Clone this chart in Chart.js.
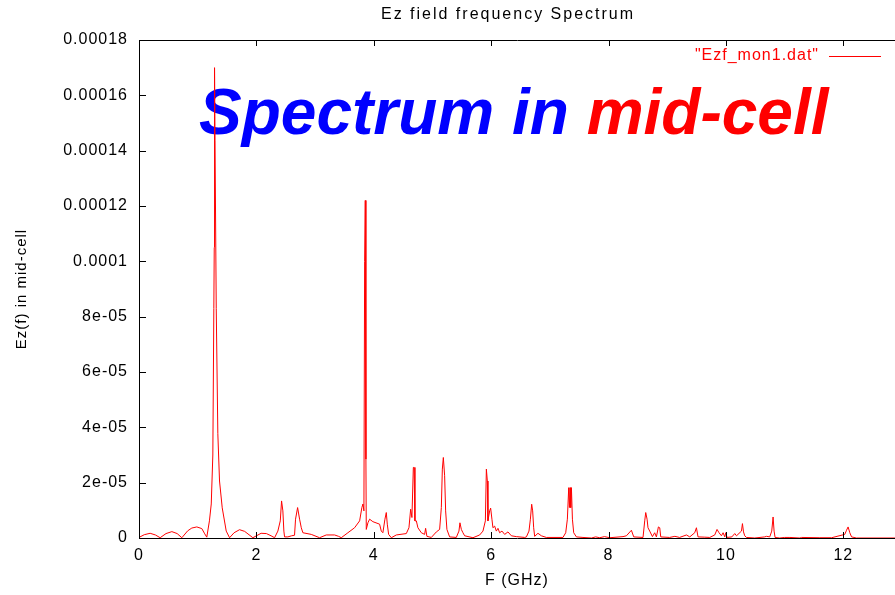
<!DOCTYPE html>
<html>
<head>
<meta charset="utf-8">
<title>Ez field frequency Spectrum</title>
<script src="https://cdn.jsdelivr.net/npm/chart.js@4.4.1/dist/chart.umd.min.js"></script>
<style>
  html, body { margin: 0; padding: 0; background: #fff; overflow: hidden; }
  #wrap { position: relative; width: 895px; height: 595px; }
</style>
</head>
<body>
<div id="wrap"><canvas id="spectrum" width="895" height="595"></canvas></div>
<script>
// frequency of each sample, GHz
const freqGHz = [
  0.00, 0.09, 0.19, 0.28, 0.36, 0.46, 0.56, 0.65, 0.73, 0.83, 0.90, 0.985, 1.07, 1.12, 1.155,
  1.20, 1.231, 1.258, 1.275, 1.282, 1.287, 1.295, 1.316, 1.343, 1.372, 1.418, 1.486, 1.543,
  1.62, 1.713, 1.80, 1.94, 2.08, 2.17, 2.25, 2.31, 2.366, 2.407, 2.429, 2.451, 2.468, 2.48,
  2.536, 2.60, 2.65, 2.667, 2.702, 2.736, 2.765, 2.792, 2.935, 3.077, 3.19, 3.332, 3.40, 3.446,
  3.559, 3.673, 3.759, 3.797, 3.815, 3.832, 3.844, 3.855, 3.866, 3.872, 3.90, 3.929, 3.985,
  4.099, 4.128, 4.155, 4.19, 4.213, 4.23, 4.253, 4.299, 4.384, 4.554, 4.599, 4.628, 4.65,
  4.674, 4.687, 4.701, 4.725, 4.752, 4.81, 4.866, 4.883, 4.905, 4.98, 5.066, 5.122, 5.151,
  5.168, 5.185, 5.207, 5.224, 5.246, 5.292, 5.406, 5.451, 5.468, 5.492, 5.519, 5.548, 5.69,
  5.804, 5.86, 5.901, 5.918, 5.935, 5.945, 5.974, 5.991, 6.013, 6.03, 6.059, 6.088, 6.116,
  6.144, 6.184, 6.23, 6.286, 6.344, 6.429, 6.571, 6.60, 6.644, 6.668, 6.69, 6.707, 6.724,
  6.741, 6.797, 6.855, 6.94, 7.223, 7.27, 7.298, 7.321, 7.333, 7.343, 7.355, 7.367, 7.384,
  7.406, 7.452, 7.564, 7.708, 7.78, 7.85, 7.93, 8.02, 8.246, 8.304, 8.389, 8.429, 8.587,
  8.616, 8.633, 8.656, 8.672, 8.701, 8.747, 8.786, 8.815, 8.849, 8.872, 8.889, 9.04, 9.13,
  9.21, 9.327, 9.383, 9.468, 9.497, 9.524, 9.639, 9.724, 9.809, 9.848, 9.882, 9.923, 9.951,
  9.98, 9.997, 10.019, 10.10, 10.15, 10.18, 10.264, 10.281, 10.299, 10.32, 10.35, 10.49,
  10.661, 10.69, 10.746, 10.78, 10.803, 10.82, 10.837, 10.917, 11.00, 11.09, 11.26, 11.287,
  11.6, 11.80, 12.024, 12.054, 12.081, 12.11, 12.14, 12.224, 12.88
];

// Ez(f) at each sample, in units of 1e-6
const ezMicro = [
  0.2, 1.2, 1.7, 1.1, 0.1, 1.6, 2.3, 1.6, 0.1, 2.6, 3.6, 4.0, 3.4, 1.5, 0.3,
  6.2, 12.3, 30, 83, 105, 170, 143.8, 83, 37.7, 20.6, 10.9, 2.5, 0.1,
  1.9, 3.0, 2.4, 0.1, 1.7, 1.6, 0.8, 0.1, 2.5, 6.2, 13.4, 9.8, 2.5, 0.4,
  0.4, 0.8, 1.0, 6.8, 11, 6.8, 3.7, 1.9, 1.3, 0.1, 1.1, 1.1, 0.6, 0.1,
  1.9, 3.7, 6.2, 11, 12.3, 9.8, 100, 122, 28.5, 3.1, 5.5, 6.8, 5.9,
  5.0, 2.5, 1.9, 6.8, 9.2, 5.0, 1.3, 0.1, 1.1, 1.6, 3.7, 10.4, 7.4,
  25.5, 25.5, 6.2, 6.2, 3.7, 1.9, 1.3, 3.5, 0.6, 0.2, 2.2, 3.1, 11,
  24.9, 29.1, 22.5, 9.8, 3.1, 0.4, 0.2, 2.5, 5.5, 3.1, 1.9, 0.8, 0.1,
  1.1, 2.5, 6.2, 24.9, 20.6, 6.2, 9.8, 10.8, 6.8, 3.7, 4.3, 2.5, 3.5,
  1.9, 2.5, 1.3, 2.2, 0.8, 0.5, 0.2, 0.4, 2.5, 6.8, 12.2, 9.8, 3.7,
  0.6, 1.7, 0.8, 0.2, 0.2, 1.9, 6.8, 18.2, 11, 18.2, 11, 18.2, 6.8,
  1.9, 0.4, 0.2, 0, 0.4, 0.1, 0.5, 0.1, 0.5, 0.8, 2.8, 0.4, 0.2,
  6.2, 9.2, 6.8, 3.7, 2.5, 0.5, 1.9, 0.4, 4.0, 3.7, 0.4, 0.2, 0.6,
  0.2, 1.1, 0.4, 1.9, 3.7, 0.4, 0.3, 0.2, 1.1, 3.1, 1.9, 0.8, 1.9,
  0.4, 1.9, 0.2, 0.4, 1.6, 0.8, 2.5, 5.2, 2.2, 0.8, 0.2, 0,
  0.4, 0.6, 0.4, 2.5, 7.6, 2.5, 0.2, 0, 0.2, 0.2, 0, 0.2,
  0.1, 0.1, 1.3, 2.8, 4.0, 1.9, 0.4, 0, 0
];

const xTickValues = [0, 2, 4, 6, 8, 10, 12];
const xTickLabels = ["0", "2", "4", "6", "8", "10", "12"];
const yTickValues = [0, 0.00002, 0.00004, 0.00006, 0.00008, 0.0001, 0.00012, 0.00014, 0.00016, 0.00018];
const yTickLabels = ["0", "2e-05", "4e-05", "6e-05", "8e-05", "0.0001", "0.00012", "0.00014", "0.00016", "0.00018"];

const plotTitle = "Ez field frequency Spectrum";
const seriesName = '"Ezf_mon1.dat"';
const captionBlue = "Spectrum in ";
const captionRed = "mid-cell";

const FONT = "'Liberation Sans', Arial, Helvetica, sans-serif";

const points = freqGHz.map((f, i) => ({ x: f, y: ezMicro[i] * 1e-6 }));

// gnuplot-like: tick marks drawn inward, text slightly tracked
const gnuplotLook = {
  id: "gnuplotLook",
  beforeLayout(chart) {
    chart.ctx.letterSpacing = "1px";
  },
  beforeDatasetsDraw(chart) {
    // big caption, sits under the curve
    const ctx = chart.ctx;
    ctx.save();
    ctx.letterSpacing = "0px";
    ctx.font = "italic bold 64px " + FONT;
    ctx.textBaseline = "alphabetic";
    ctx.textAlign = "left";
    const x0 = 199, y0 = 134;
    ctx.fillStyle = "#0000ff";
    ctx.fillText(captionBlue, x0, y0);
    const w = ctx.measureText(captionBlue).width;
    ctx.fillStyle = "#ff0000";
    ctx.fillText(captionRed, x0 + w, y0);
    ctx.restore();
  },
  afterDraw(chart) {
    const ctx = chart.ctx;
    const area = chart.chartArea;
    const xs = chart.scales.x;
    const ys = chart.scales.y;
    ctx.save();
    ctx.strokeStyle = "#000";
    ctx.lineWidth = 1;
    ctx.beginPath();
    xTickValues.forEach(v => {
      const px = Math.round(xs.getPixelForValue(v)) + 0.5;
      ctx.moveTo(px, area.bottom);
      ctx.lineTo(px, area.bottom - 6);
      ctx.moveTo(px, area.top);
      ctx.lineTo(px, area.top + 6);
    });
    yTickValues.forEach(v => {
      const py = Math.round(ys.getPixelForValue(v)) + 0.5;
      ctx.moveTo(area.left, py);
      ctx.lineTo(area.left + 7, py);
    });
    ctx.stroke();

    // plot title
    ctx.font = "16px " + FONT;
    ctx.letterSpacing = "2px";
    ctx.fillStyle = "#000";
    ctx.textAlign = "center";
    ctx.textBaseline = "middle";
    ctx.fillText(plotTitle, 508, 15);

    // key, text first then the line sample
    ctx.letterSpacing = "1px";
    ctx.fillStyle = "#ff0000";
    ctx.textAlign = "right";
    ctx.fillText(seriesName, 819, 56);
    ctx.strokeStyle = "#ff0000";
    ctx.beginPath();
    ctx.moveTo(829, 56.5);
    ctx.lineTo(881, 56.5);
    ctx.stroke();
    ctx.restore();
  }
};

new Chart(document.getElementById("spectrum"), {
  type: "line",
  data: {
    datasets: [{
      label: seriesName,
      data: points,
      borderColor: "#ff0000",
      borderWidth: 1,
      pointRadius: 0,
      tension: 0,
      fill: false
    }]
  },
  options: {
    responsive: false,
    animation: false,
    events: [],
    layout: { padding: 0 },
    plugins: {
      legend: { display: false },
      tooltip: { enabled: false },
      title: { display: false }
    },
    scales: {
      x: {
        type: "linear",
        position: "bottom",
        min: 0,
        max: 12.88,
        afterBuildTicks: s => { s.ticks = xTickValues.map(v => ({ value: v })); },
        afterFit: s => { s.height = 57; },
        grid: { display: false, drawTicks: false },
        border: { display: true, color: "#000", width: 1 },
        ticks: {
          padding: 8,
          color: "#000",
          font: { family: FONT, size: 16 },
          maxRotation: 0,
          callback: (v, i) => xTickLabels[i]
        },
        title: {
          display: true,
          text: "F (GHz)",
          color: "#000",
          font: { family: FONT, size: 16 },
          padding: { top: 0, bottom: 5 }
        }
      },
      x2: {
        type: "linear",
        position: "top",
        min: 0,
        max: 12.88,
        afterBuildTicks: s => { s.ticks = xTickValues.map(v => ({ value: v })); },
        afterFit: s => { s.height = 40; },
        grid: { display: false, drawTicks: false },
        border: { display: true, color: "#000", width: 1 },
        ticks: { display: false }
      },
      y: {
        type: "linear",
        position: "left",
        min: 0,
        max: 0.00018,
        afterBuildTicks: s => { s.ticks = yTickValues.map(v => ({ value: v })); },
        afterFit: s => { s.width = 139; },
        grid: { display: false, drawTicks: false },
        border: { display: true, color: "#000", width: 1 },
        ticks: {
          padding: 11,
          color: "#000",
          font: { family: FONT, size: 16 },
          callback: (v, i) => yTickLabels[i]
        },
        title: {
          display: true,
          text: "Ez(f) in mid-cell",
          color: "#000",
          font: { family: FONT, size: 15 },
          padding: { top: 13, bottom: 0 }
        }
      }
    }
  },
  plugins: [gnuplotLook]
});
</script>
</body>
</html>
